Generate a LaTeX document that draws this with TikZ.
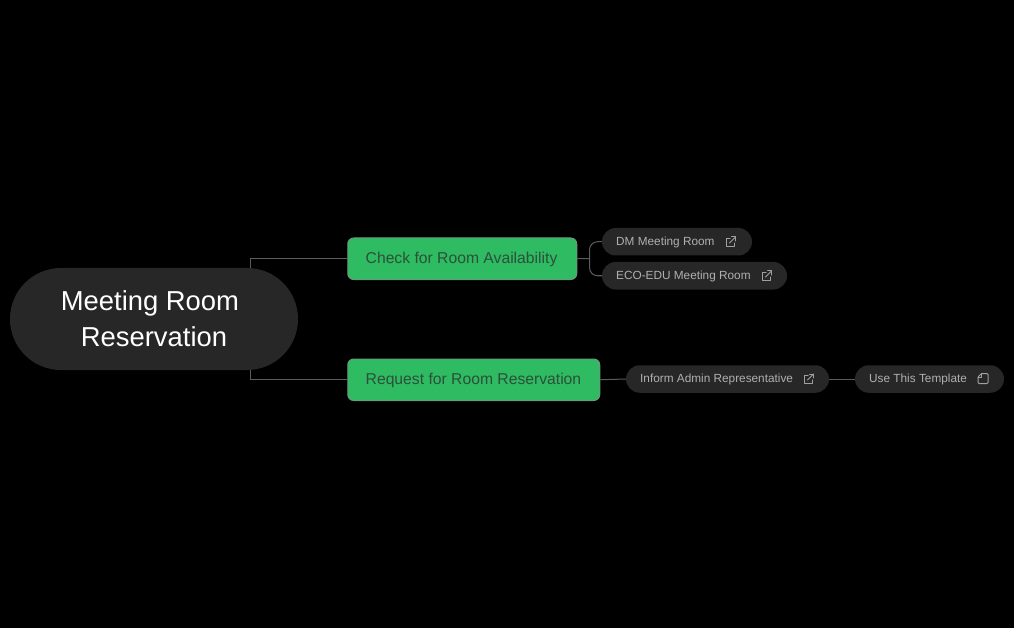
\documentclass[tikz,border=0pt]{standalone}
\usepackage{fontspec}
\setmainfont{Liberation Sans}
\definecolor{pillc}{HTML}{272727}
\definecolor{greenc}{HTML}{2EBB62}
\definecolor{greenb}{HTML}{6A9A7C}
\definecolor{linec}{HTML}{5C5C5C}
\definecolor{pilltext}{HTML}{B0B0B0}
\definecolor{icontext}{HTML}{A0A0A0}
\definecolor{greentext}{HTML}{2C5039}
\tikzset{
  x=1pt,y=-1pt,
  rootbox/.style={fill=pillc,rounded corners=50.9pt,minimum width=288pt,minimum height=102pt,inner sep=0pt,text=white,font=\fontsize{27.4}{36}\selectfont,align=center},
  greenbox/.style={fill=greenc,draw=greenb,line width=1pt,rounded corners=6pt,minimum height=41.5pt,inner sep=0pt},
  greenlabel/.style={anchor=west,inner sep=0pt,text=greentext,font=\fontsize{15.7}{20}\selectfont},
  pill/.style={fill=pillc,rounded corners=13.7pt,minimum height=27.5pt,inner sep=0pt},
  pilllabel/.style={anchor=west,inner sep=0pt,text=pilltext,font=\fontsize{11.8}{14}\selectfont},
  conn/.style={draw=linec,line width=1pt},
  iconline/.style={draw=icontext,line width=1pt,line cap=round,line join=round},
}
\newcommand{\exticon}[2]{%
  \begin{scope}[shift={(#1,#2)}]
    \draw[iconline] (-1,-3.5) -- (-5,-3.5) -- (-5,4.5) -- (3,4.5) -- (3,1);
    \draw[iconline] (-1.5,1) -- (4.5,-5);
    \draw[iconline] (0.5,-5) -- (4.5,-5) -- (4.5,-1);
  \end{scope}}
\newcommand{\docicon}[2]{%
  \begin{scope}[shift={(#1,#2)}]
    \draw[iconline,rounded corners=1pt] (-1.5,-5) -- (5,-5) -- (5,5) -- (-5,5) -- (-5,-1.5) -- cycle;
    \draw[iconline] (-1.5,-5) -- (-1.5,-1.5) -- (-5,-1.5);
  \end{scope}}
\begin{document}
\begin{tikzpicture}
\fill[black] (0,0) rectangle (1014,628);
\useasboundingbox (0,0) rectangle (1014,628);
\coordinate (rootup) at (250,268);
\coordinate (rootdown) at (250,370);
\coordinate (fork) at (589.5,258.5);
\node[rootbox] (root) at (154,319) {Meeting Room\kern8pt\relax\\Reservation};
\node[greenbox,minimum width=229pt] (check) at (462.25,258.75) {};
\node[greenbox,minimum width=252pt] (request) at (473.75,379.75) {};
\node[pill,minimum width=150pt] (dm) at (677,241.75) {};
\node[pill,minimum width=185pt] (eco) at (694.5,275.75) {};
\node[pill,minimum width=203pt] (inform) at (727.5,379) {};
\node[pill,minimum width=149pt] (tmpl) at (929.5,379) {};
\node[greenlabel] (checkt) at (365.5,259.5) {Check for Room Availability};
\node[greenlabel] (requestt) at (365.5,380.5) {Request for Room Reservation};
\node[pilllabel] (dmt) at (616,242) {DM Meeting Room};
\node[pilllabel] (ecot) at (616,276.5) {ECO-EDU Meeting Room};
\node[pilllabel] (informt) at (640,379.7) {Inform Admin Representative};
\node[pilllabel] (tmplt) at (869,379.7) {Use This Template};
\exticon{731}{242}
\exticon{767}{276}
\exticon{809}{379}
\docicon{983}{378.5}
\draw[conn] (rootup) |- (check.west);
\draw[conn] (rootdown) |- (request.west);
\draw[conn] (check.east) -- (fork);
\draw[conn,rounded corners=8pt] (dm.west) -| (fork) |- (eco.west);
\draw[conn] (request.east) -- (inform.west);
\draw[conn] (inform.east) -- (tmpl.west);
\end{tikzpicture}
\end{document}
